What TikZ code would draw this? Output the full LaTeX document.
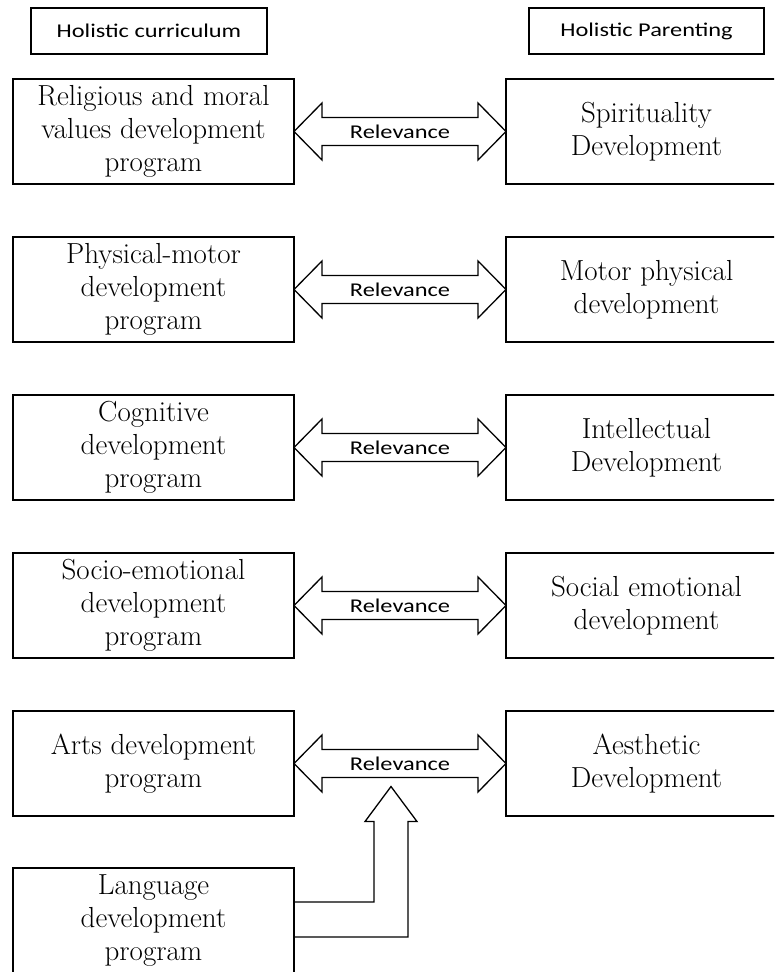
\documentclass[tikz,border=0pt]{standalone}
\usepackage{fontspec}
\setsansfont{Carlito}[FakeStretch=1.25]
\usepackage{tikz}
\usetikzlibrary{positioning,calc}

\tikzset{
    prog/.style={draw, line width=1.5pt, minimum width=281pt, minimum height=105pt,
        align=center, inner sep=0pt, outer sep=0pt, font=\fontsize{29}{33}\selectfont},
    headbox/.style={draw, line width=1.3pt, minimum height=46pt, inner sep=0pt,
        outer sep=0pt, font=\sffamily\fontsize{19.5}{23}\selectfont},
    rellabel/.style={inner sep=0pt, font=\sffamily\fontsize{19.5}{23}\selectfont},
    relarr/.style={line width=1.3pt, fill=white, line join=miter},
}

% double arrow between two boxes
\newcommand{\relarrow}[2]{%
    \draw[relarr] (#1.east) -- ++(28,28.5) -- ++(0,-14.5) -- ($(#2.west)+(-28,14)$)
        -- ++(0,14.5) -- (#2.west) -- ++(-28,-28.5) -- ++(0,14.5)
        -- ($(#1.east)+(28,-14)$) -- ++(0,-14.5) -- cycle;}

\begin{document}
\begin{tikzpicture}[x=1pt, y=1pt]
    \clip (0,0) rectangle (774,972);

    \node[headbox, minimum width=236pt] (hcur) at (149,941) {Holistic curriculum};
    \node[headbox, minimum width=235pt] (hpar) at (646.5,941) {Holistic Parenting};

    \node[prog] (cur1) at (153.5,840.5) {Religious and moral\\values development\\program};
    \node[prog] (cur2) [below=53pt of cur1] {Physical-motor\\development\\program};
    \node[prog] (cur3) [below=53pt of cur2] {Cognitive\\development\\program};
    \node[prog] (cur4) [below=53pt of cur3] {Socio-emotional\\development\\program};
    \node[prog] (cur5) [below=53pt of cur4] {Arts development\\program};
    \node[prog] (lang) [below=52pt of cur5] {Language\\development\\program};

    \node[prog] (par1) [right=212pt of cur1] {Spirituality\\Development};
    \node[prog] (par2) [right=212pt of cur2] {Motor physical\\development};
    \node[prog] (par3) [right=212pt of cur3] {Intellectual\\Development};
    \node[prog] (par4) [right=212pt of cur4] {Social emotional\\development};
    \node[prog] (par5) [right=212pt of cur5] {Aesthetic\\Development};

    \relarrow{cur1}{par1}
    \relarrow{cur2}{par2}
    \relarrow{cur3}{par3}
    \relarrow{cur4}{par4}
    \relarrow{cur5}{par5}

    \node[rellabel] (rel1) at ($(cur1.east)!0.5!(par1.west)$) {Relevance};
    \node[rellabel] (rel2) at ($(cur2.east)!0.5!(par2.west)$) {Relevance};
    \node[rellabel] (rel3) at ($(cur3.east)!0.5!(par3.west)$) {Relevance};
    \node[rellabel] (rel4) at ($(cur4.east)!0.5!(par4.west)$) {Relevance};
    \node[rellabel] (rel5) at ($(cur5.east)!0.5!(par5.west)$) {Relevance};

    % bent arrow from the language box
    \coordinate (tip) at ($(rel5.south)+(-9,-16)$);
    \coordinate (in) at ($(lang.east)+(0,18.5)$);
    \coordinate (out) at ($(lang.east)+(0,-16.5)$);
    \draw[relarr, fill=none] (in) -- (in -| {$(tip)+(-17,0)$}) |- ($(tip)+(-17,-35)$)
        -- ++(-9,0) -- (tip) -- ++(26,-35) -- ++(-9,0) |- (out);

\end{tikzpicture}
\end{document}
